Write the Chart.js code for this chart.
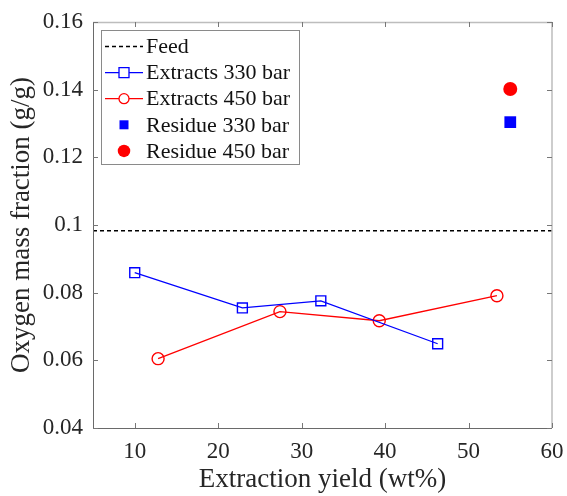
<!DOCTYPE html>
<html><head><meta charset="utf-8">
<script src="https://cdn.jsdelivr.net/npm/chart.js@4"></script>
<style>html,body{margin:0;padding:0;background:#fff}#c{display:block}</style>
</head><body>
<canvas id="c" width="567" height="496"></canvas>
<script>
const xTicks = [10, 20, 30, 40, 50, 60];
const yTicks = [0.04, 0.06, 0.08, 0.10, 0.12, 0.14, 0.16];
const yTickLabels = ['0.04', '0.06', '0.08', '0.1', '0.12', '0.14', '0.16'];
const seriesLabels = ['Feed', 'Extracts 330 bar', 'Extracts 450 bar', 'Residue 330 bar', 'Residue 450 bar'];
const feedX = [5, 60];
const feedY = [0.0983, 0.0983];
const ext330X = [10.0, 22.9, 32.3, 46.3];
const ext330Y = [0.0859, 0.0755, 0.0776, 0.0649];
const ext450X = [12.8, 27.4, 39.3, 53.4];
const ext450Y = [0.0605, 0.0744, 0.0717, 0.0791];
const res330X = [55.0];
const res330Y = [0.1304];
const res450X = [55.0];
const res450Y = [0.1402];

const pts = (xs, ys) => xs.map((x, i) => ({x: x, y: ys[i]}));
const FONT = '"Liberation Serif", "Times New Roman", serif';
const TXT = '#262626';

const framePlugin = {
  id: 'frame',
  afterDraw(chart) {
    const {ctx, chartArea: a, scales: {x, y}} = chart;
    ctx.save();
    ctx.strokeStyle = '#bdbdbd';
    ctx.lineWidth = 1.5;
    ctx.beginPath();
    ctx.moveTo(a.left, a.top + 0.5); ctx.lineTo(a.right, a.top + 0.5);
    ctx.moveTo(a.right, a.top); ctx.lineTo(a.right, a.bottom);
    ctx.stroke();
    ctx.strokeStyle = '#6a6a6a';
    ctx.lineWidth = 1;
    ctx.beginPath();
    ctx.moveTo(a.left + 0.5, a.top); ctx.lineTo(a.left + 0.5, a.bottom + 0.5);
    ctx.lineTo(a.right, a.bottom + 0.5);
    ctx.stroke();
    ctx.strokeStyle = '#777';
    ctx.lineWidth = 1;
    ctx.beginPath();
    const tl = 5;
    xTicks.forEach(v => {
      const px = Math.round(x.getPixelForValue(v)) + 0.5;
      ctx.moveTo(px, a.bottom); ctx.lineTo(px, a.bottom - tl);
      ctx.moveTo(px, a.top); ctx.lineTo(px, a.top + tl);
    });
    yTicks.forEach(v => {
      const py = Math.round(y.getPixelForValue(v)) + 0.5;
      ctx.moveTo(a.left, py); ctx.lineTo(a.left + tl, py);
      ctx.moveTo(a.right, py); ctx.lineTo(a.right - tl, py);
    });
    ctx.stroke();
    ctx.restore();
  }
};

const legendPlugin = {
  id: 'boxLegend',
  afterDraw(chart) {
    const ctx = chart.ctx;
    const bx = 101, by = 30, bw = 198, bh = 134;
    ctx.save();
    ctx.fillStyle = '#fff';
    ctx.fillRect(bx, by, bw, bh);
    ctx.strokeStyle = '#8a8a8a';
    ctx.lineWidth = 1;
    ctx.strokeRect(bx + 0.5, by + 0.5, bw, bh);
    const x0 = 105, x1 = 143, xm = 124, tx = 146;
    chart.data.datasets.forEach((ds, i) => {
      const yy = 46.5 + i * 26.1;
      if (ds.showLine !== false) {
        ctx.strokeStyle = ds.borderColor;
        ctx.lineWidth = ds.borderWidth;
        ctx.setLineDash(ds.borderDash || []);
        ctx.beginPath(); ctx.moveTo(x0, yy); ctx.lineTo(x1, yy); ctx.stroke();
        ctx.setLineDash([]);
      }
      if (ds.pointRadius > 0) {
        const filled = ds.legendFill;
        ctx.lineWidth = 1.3;
        ctx.strokeStyle = ds.pointBorderColor;
        ctx.fillStyle = filled ? ds.pointBackgroundColor : '#fff';
        ctx.beginPath();
        if (ds.pointStyle === 'rect') {
          const s = ds.legendSize;
          ctx.rect(xm - s / 2, yy - s / 2, s, s);
        } else {
          ctx.arc(xm, yy, ds.legendSize / 2, 0, Math.PI * 2);
        }
        ctx.fill();
        if (!filled) ctx.stroke();
      }
      ctx.fillStyle = '#111';
      ctx.font = '22px ' + FONT;
      ctx.textBaseline = 'middle';
      ctx.textAlign = 'left';
      ctx.fillText(ds.label, tx, yy + 1);
    });
    ctx.restore();
  }
};

new Chart(document.getElementById('c'), {
  type: 'scatter',
  data: {
    datasets: [
      {label: seriesLabels[0], data: pts(feedX, feedY), showLine: true, borderColor: '#000', borderWidth: 1.4,
       borderDash: [4, 3], pointRadius: 0, pointHoverRadius: 0},
      {label: seriesLabels[1], data: pts(ext330X, ext330Y), showLine: true, borderColor: '#0000ff', borderWidth: 1.3,
       pointStyle: 'rect', pointRadius: 7, pointBorderColor: '#0000ff', pointBackgroundColor: 'rgba(0,0,0,0)',
       pointBorderWidth: 1.4, legendSize: 10, legendFill: false},
      {label: seriesLabels[2], data: pts(ext450X, ext450Y), showLine: true, borderColor: '#ff0000', borderWidth: 1.3,
       pointStyle: 'circle', pointRadius: 6, pointBorderColor: '#ff0000', pointBackgroundColor: 'rgba(0,0,0,0)',
       pointBorderWidth: 1.4, legendSize: 10, legendFill: false},
      {label: seriesLabels[3], data: pts(res330X, res330Y), showLine: false,
       pointStyle: 'rect', pointRadius: 8.3, pointBorderColor: '#0000ff', pointBackgroundColor: '#0000ff',
       pointBorderWidth: 0, legendSize: 9, legendFill: true},
      {label: seriesLabels[4], data: pts(res450X, res450Y), showLine: false,
       pointStyle: 'circle', pointRadius: 7, pointBorderColor: '#ff0000', pointBackgroundColor: '#ff0000',
       pointBorderWidth: 0, legendSize: 12.5, legendFill: true}
    ]
  },
  options: {
    responsive: false,
    animation: false,
    devicePixelRatio: 1,
    layout: {padding: {top: 22, right: 15, left: 0, bottom: 0}},
    plugins: {legend: {display: false}, tooltip: {enabled: false}},
    scales: {
      x: {
        type: 'linear', min: 5, max: 60,
        grid: {display: false, drawTicks: false},
        border: {display: false},
        afterBuildTicks: s => { s.ticks = xTicks.map(v => ({value: v})); },
        afterFit: s => { s.height = 68; s.paddingRight = 0; s.paddingLeft = 0; },
        ticks: {font: {family: FONT, size: 23}, color: TXT, padding: 10, maxRotation: 0,
                callback: v => String(v)},
        title: {display: true, text: 'Extraction yield (wt%)', font: {family: FONT, size: 27}, color: TXT,
                padding: {top: 0, bottom: 0}}
      },
      y: {
        type: 'linear', min: 0.04, max: 0.16,
        grid: {display: false, drawTicks: false},
        border: {display: false},
        afterBuildTicks: s => { s.ticks = yTicks.map(v => ({value: v})); },
        afterFit: s => { s.width = 93; s.paddingTop = 0; s.paddingBottom = 0; },
        ticks: {font: {family: FONT, size: 23}, color: TXT, padding: 10,
                callback: (v, i) => yTickLabels[i]},
        title: {display: true, text: 'Oxygen mass fraction (g/g)', font: {family: FONT, size: 27}, color: TXT,
                padding: {top: 6, bottom: 0}}
      }
    }
  },
  plugins: [framePlugin, legendPlugin]
});
</script>
</body></html>
